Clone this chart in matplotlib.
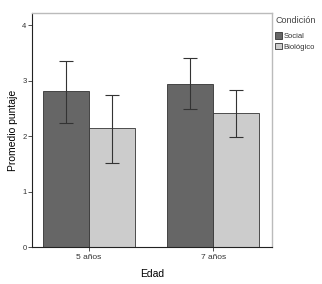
import numpy as np
import matplotlib
matplotlib.use("Agg")
import matplotlib.pyplot as plt
from matplotlib.patches import Patch

# datos
edades = ["5 años", "7 años"]
condiciones = ["Social", "Biológico"]
medias = {"Social": [2.81, 2.94], "Biológico": [2.14, 2.41]}
err_sup = {"Social": [3.36, 3.40], "Biológico": [2.75, 2.83]}
err_inf = {"Social": [2.24, 2.48], "Biológico": [1.52, 1.98]}
colores = {"Social": "#666666", "Biológico": "#cccccc"}

plt.rcParams['font.family'] = ['Liberation Sans', 'DejaVu Sans']

fig = plt.figure(figsize=(3.22, 2.84), dpi=100)
ax = fig.add_axes([32 / 322, 1 - 247 / 284, 240 / 322, 234 / 284])

x = np.arange(len(edades))
ancho = 0.37
for i, c in enumerate(condiciones):
    pos = x + (i - 0.5) * ancho
    m = np.array(medias[c])
    lo = m - np.array(err_inf[c])
    hi = np.array(err_sup[c]) - m
    ax.bar(pos, m, width=ancho, color=colores[c], edgecolor="#333333",
           linewidth=0.6, label=c)
    ax.errorbar(pos, m, yerr=[lo, hi], fmt="none", ecolor="#333333",
                elinewidth=0.8, capsize=5, capthick=0.8)

ax.set_xlim(-0.46, 1.475)
ax.set_ylim(0, 4.22)
ax.set_xticks(x)
ax.set_xticklabels(edades, fontsize=6)
ax.set_yticks([0, 1, 2, 3, 4])
ax.tick_params(axis="y", labelsize=5.5, length=3, width=0.6, pad=1, colors="#333333")
ax.tick_params(axis="x", length=3, width=0.6, pad=2, colors="#333333")
ax.set_xlabel("Edad", fontsize=7.5, labelpad=6)
ax.set_ylabel("Promedio puntaje", fontsize=7.5, labelpad=3)

for s in ["top", "right"]:
    ax.spines[s].set_color("#bbbbbb")
    ax.spines[s].set_linewidth(1)
for s in ["left", "bottom"]:
    ax.spines[s].set_color("#222222")
    ax.spines[s].set_linewidth(0.8)

handles = [Patch(facecolor=colores[c], edgecolor="#333333", linewidth=0.6, label=c)
           for c in condiciones]
leg = fig.legend(handles=handles, title="Condición", loc="upper left",
                 bbox_to_anchor=(275 / 322, 1 - 16 / 284), frameon=False,
                 fontsize=5.5, title_fontsize=6.5, handlelength=0.9,
                 handleheight=1.0, handletextpad=0.2, borderaxespad=0,
                 labelspacing=0.35, borderpad=0)
leg._legend_box.align = "left"
leg._legend_box.sep = 5
leg.get_title().set_color("#444444")
for t in leg.get_texts():
    t.set_color("#333333")

fig.savefig("out.png", dpi=100)
